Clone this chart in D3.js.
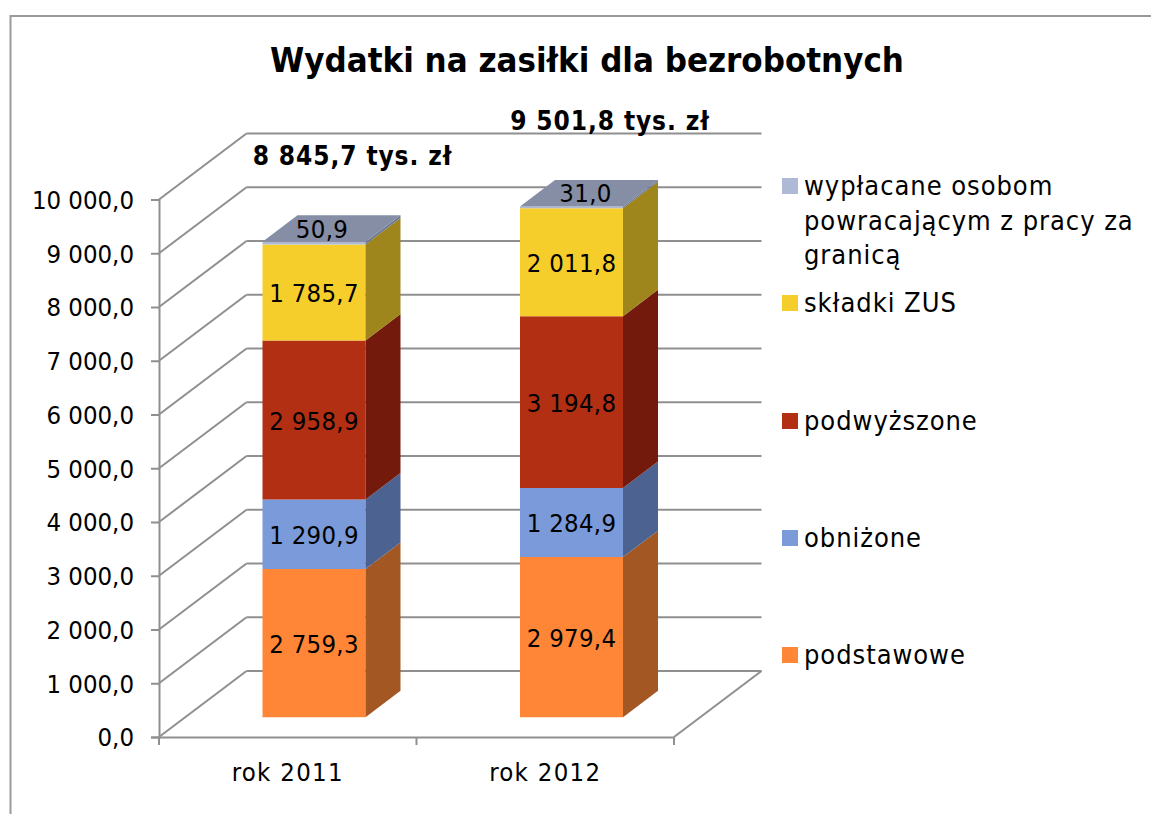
<!DOCTYPE html>
<html lang="pl"><head><meta charset="utf-8">
<script src="https://cdn.jsdelivr.net/npm/d3@7"></script>
<style>
html,body{margin:0;padding:0;background:#fff;overflow:hidden}
text{font-family:"DejaVu Sans",sans-serif;font-stretch:condensed;fill:#000}
</style></head><body>
<svg id="c" width="1151" height="814"></svg>
<script>
const title = "Wydatki na zasiłki dla bezrobotnych";
const years = ["rok 2011", "rok 2012"];
const seriesNames = ["podstawowe", "obniżone", "podwyższone", "składki ZUS", "wypłacane osobom powracającym z pracy za granicą"];
const podstawowe = [2759.3, 2979.4];
const obnizone = [1290.9, 1284.9];
const podwyzszone = [2958.9, 3194.8];
const skladki = [1785.7, 2011.8];
const powracajacy = [50.9, 31.0];
const totals = ["8 845,7 tys. zł", "9 501,8 tys. zł"];
const yTicks = [0,1000,2000,3000,4000,5000,6000,7000,8000,9000,10000];
const frontColors = ["#FF8636", "#7A9ADA", "#B22F14", "#F6CE2B", "#ADB9D5"];
const sideColors = ["#A35723", "#4C6392", "#741A0C", "#9E851C", "#6F7A90"];
const topColors = ["#A35723", "#4C6392", "#741A0C", "#9E851C", "#858EA5"];
const legendLines = [["podstawowe"],["obniżone"],["podwyższone"],["składki ZUS"],["wypłacane osobom","powracającym z pracy za","granicą"]];
const legendY = [655, 538, 421, 303, 186];

const seriesValues = [podstawowe, obnizone, podwyzszone, skladki, powracajacy];
const svg = d3.select("#c");
const gridColor = "#8f8f8f";
const depthX = 87.5, depthY = 66;
const x = d3.scaleBand().domain(years).range([159, 674]).paddingInner(0).paddingOuter(0);
const y = d3.scaleLinear().domain([0, 10000]).range([737, 199.5]);
const fmt = d3.formatLocale({decimal:",",thousands:"\u00a0",grouping:[3],currency:["",""]}).format(",.1f");
const P = (px, v, d) => [px + d*depthX, y(v) - d*depthY];
const line = (a,b,w=2) => svg.append("line").attr("x1",a[0]).attr("y1",a[1]).attr("x2",b[0]).attr("y2",b[1]).attr("stroke",gridColor).attr("stroke-width",w);
const poly = (pts,fill) => svg.append("polygon").attr("points",pts.map(p=>p.join(",")).join(" ")).attr("fill",fill);

// frame
svg.append("path").attr("d","M10.5,814V16H1151").attr("fill","none").attr("stroke","#9a9a9a").attr("stroke-width",2);

// title
svg.append("text").attr("x",587).attr("y",72).attr("text-anchor","middle")
  .style("font-weight",700).style("font-size","34.5px").text(title);

// walls: gridlines on side and back wall
const left = x.range()[0], right = x.range()[1];
yTicks.forEach(v => {
  line(P(left,v,0), P(left,v,1));
  if (v>0) line(P(left,v,1), P(right,v,1));
});
// floor
line(P(left,0,1), P(right,0,1));
line(P(right,0,1), P(right,0,0));

// axes
const yAxis = svg.append("g").attr("transform",`translate(${left},0)`)
  .call(d3.axisLeft(y).tickValues(yTicks).tickFormat(fmt).tickSize(8).tickPadding(17));
yAxis.selectAll("path,line").attr("stroke",gridColor).attr("stroke-width",2);
yAxis.selectAll("text").style("font-size","25.5px").attr("fill","#000").attr("dy","0.35em");
yAxis.attr("font-family",null).attr("font-size",null);

const xAxis = svg.append("g").attr("transform",`translate(0,${y(0)})`)
  .call(d3.axisBottom(x).tickSize(0).tickPadding(26));
xAxis.selectAll("path").attr("stroke",gridColor).attr("stroke-width",2);
xAxis.selectAll("text").style("font-size","25.5px").style("letter-spacing","1.3px").attr("fill","#000").attr("dy","0.71em");
xAxis.attr("font-family",null).attr("font-size",null);
[left, left+x.step(), right].forEach(px => line([px,y(0)],[px,y(0)+8]));

// bars
const dStart = 0.3, dEnd = 0.7, barW = x.bandwidth()*0.4;
years.forEach((yr,i) => {
  const x0 = x(yr)+x.bandwidth()*0.3, x1 = x0+barW;
  let base = 0;
  seriesValues.forEach((vals,s) => {
    const top = base+vals[i];
    poly([P(x0,top,dStart),P(x1,top,dStart),P(x1,base,dStart),P(x0,base,dStart)],frontColors[s]);
    poly([P(x1,top,dStart),P(x1,top,dEnd),P(x1,base,dEnd),P(x1,base,dStart)],sideColors[s]);
    if (s===seriesValues.length-1) {
      poly([P(x0,top,dStart),P(x0,top,dEnd),P(x1,top,dEnd),P(x1,top,dStart)],topColors[s]);
    }
    base = top;
  });
  // labels
  base = 0;
  seriesValues.forEach((vals,s) => {
    const top = base+vals[i];
    const isTop = s===seriesValues.length-1;
    const p = P((x0+x1)/2, (base+top)/2, dStart);
    svg.append("text").attr("x",p[0]+(isTop?(i?14:8):0)).attr("y",p[1]+(isTop?-14:1)).attr("dy","0.35em")
      .attr("text-anchor","middle").style("font-size","25.5px").style("letter-spacing","0.3px").text(fmt(vals[i]));
    base = top;
  });
  const tp = P((x0+x1)/2, base, dStart);
  svg.append("text").attr("x",tp[0]+38.5).attr("y",tp[1]-86).attr("dy","0.35em").attr("text-anchor","middle")
    .style("font-weight",700).style("font-size","26px").style("letter-spacing","0.9px").text(totals[i]);
});

// legend
seriesNames.forEach((name,s) => {
  svg.append("rect").attr("x",782).attr("y",legendY[s]-8).attr("width",16).attr("height",16).attr("fill",frontColors[s]);
  const t = svg.append("text").attr("x",804).attr("y",legendY[s]).attr("dy","0.35em").style("font-size","27px").style("letter-spacing","0.95px");
  legendLines[s].forEach((l,k) => t.append("tspan").attr("x",804).attr("dy",k?"34.5px":"0.35em").text(l));
});
</script></body></html>
